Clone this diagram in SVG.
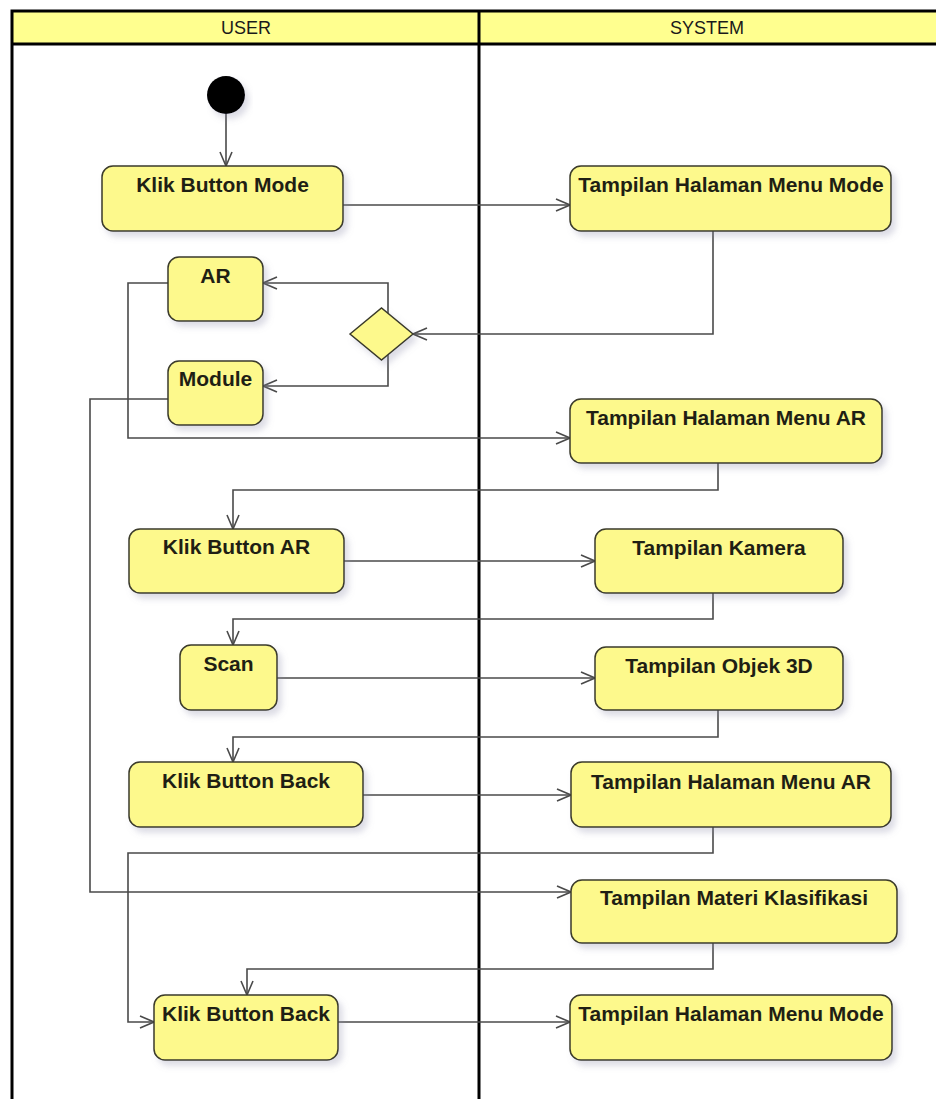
<svg xmlns="http://www.w3.org/2000/svg" width="936" height="1099" viewBox="0 0 936 1099">
  <defs>
    <style>
      .lane-title { font-family: "Liberation Sans", Arial, sans-serif; font-size: 18px; fill: #1a1a1a; text-anchor: middle; }
      .act { fill: #fdf98c; stroke: #3a3a2a; stroke-width: 1.5; filter: url(#shadow); }
      .label { font-family: "Liberation Sans", Arial, sans-serif; font-size: 21px; font-weight: bold; fill: #1f1f14; text-anchor: middle; }
      .flow { fill: none; stroke: #4a4a4a; stroke-width: 1.6; marker-end: url(#open-arrow); }
      .lane-line { stroke: #000; stroke-width: 3; fill: none; }
    </style>
    <filter id="shadow" x="-10%" y="-20%" width="130%" height="150%">
      <feGaussianBlur in="SourceAlpha" stdDeviation="3"/>
      <feOffset dx="4" dy="5" result="blur"/>
      <feFlood flood-color="#8a8aa8" flood-opacity="0.3"/>
      <feComposite in2="blur" operator="in"/>
      <feMerge>
        <feMergeNode/>
        <feMergeNode in="SourceGraphic"/>
      </feMerge>
    </filter>
    <marker id="open-arrow" viewBox="0 0 16 14" refX="15" refY="7" markerWidth="16" markerHeight="14" markerUnits="userSpaceOnUse" orient="auto">
      <path d="M1,1 L15,7 L1,13" fill="none" stroke="#4a4a4a" stroke-width="1.6"/>
    </marker>
  </defs>

  <rect width="936" height="1099" fill="#ffffff"/>

  <!-- swimlanes -->
  <g id="lanes">
    <rect x="12" y="11" width="930" height="33" fill="#ffff8f"/>
    <rect x="12" y="11" width="930" height="1100" class="lane-line"/>
    <line x1="12" y1="44" x2="940" y2="44" class="lane-line"/>
    <line x1="479" y1="11" x2="479" y2="1105" class="lane-line"/>
    <text x="246" y="34" class="lane-title">USER</text>
    <text x="707" y="34" class="lane-title">SYSTEM</text>
  </g>

  <!-- control flows -->
  <g id="connectors">
    <path class="flow" d="M226,114 V166"/>
    <path class="flow" d="M343,205 H570"/>
    <path class="flow" d="M713,231 V334 H413"/>
    <path class="flow" d="M388,313 V283 H263"/>
    <path class="flow" d="M388,355 V386 H263"/>
    <path class="flow" d="M168,283 H128 V438 H570"/>
    <path class="flow" d="M168,399 H90 V892 H571"/>
    <path class="flow" d="M718,463 V490 H233 V529"/>
    <path class="flow" d="M344,561 H595"/>
    <path class="flow" d="M713,593 V619 H233 V645"/>
    <path class="flow" d="M277,678 H595"/>
    <path class="flow" d="M718,710 V737 H233 V762"/>
    <path class="flow" d="M363,795 H571"/>
    <path class="flow" d="M713,827 V853 H128 V1022 H154"/>
    <path class="flow" d="M713,943 V969 H247 V995"/>
    <path class="flow" d="M338,1022 H570"/>
  </g>

  <!-- user lane -->
  <g id="start">
    <circle cx="226" cy="95" r="19" fill="#000" filter="url(#shadow)"/>
  </g>
  <g id="klik-button-mode">
    <rect class="act" x="102" y="166" width="241" height="65" rx="11"/>
    <text class="label" x="222.5" y="192">Klik Button Mode</text>
  </g>
  <g id="decision">
    <polygon points="350,334 381.5,308 413,334 381.5,360" fill="#fdf98c" stroke="#3a3a2a" stroke-width="1.5" filter="url(#shadow)"/>
  </g>
  <g id="ar">
    <rect class="act" x="168" y="257" width="95" height="64" rx="11"/>
    <text class="label" x="215.5" y="283">AR</text>
  </g>
  <g id="module">
    <rect class="act" x="168" y="361" width="95" height="64" rx="11"/>
    <text class="label" x="215.5" y="386">Module</text>
  </g>
  <g id="klik-button-ar">
    <rect class="act" x="129" y="529" width="215" height="64" rx="11"/>
    <text class="label" x="236.5" y="554">Klik Button AR</text>
  </g>
  <g id="scan">
    <rect class="act" x="180" y="645" width="97" height="65" rx="11"/>
    <text class="label" x="228.5" y="671">Scan</text>
  </g>
  <g id="klik-button-back-1">
    <rect class="act" x="129" y="762" width="234" height="65" rx="11"/>
    <text class="label" x="246" y="788">Klik Button Back</text>
  </g>
  <g id="klik-button-back-2">
    <rect class="act" x="154" y="995" width="184" height="65" rx="11"/>
    <text class="label" x="246" y="1021">Klik Button Back</text>
  </g>

  <!-- system lane -->
  <g id="menu-mode-1">
    <rect class="act" x="570" y="166" width="321" height="65" rx="11"/>
    <text class="label" x="731" y="192">Tampilan Halaman Menu Mode</text>
  </g>
  <g id="menu-ar-1">
    <rect class="act" x="570" y="399" width="312" height="64" rx="11"/>
    <text class="label" x="726" y="425">Tampilan Halaman Menu AR</text>
  </g>
  <g id="kamera">
    <rect class="act" x="595" y="529" width="248" height="64" rx="11"/>
    <text class="label" x="719" y="555">Tampilan Kamera</text>
  </g>
  <g id="objek-3d">
    <rect class="act" x="595" y="647" width="248" height="63" rx="11"/>
    <text class="label" x="719" y="673">Tampilan Objek 3D</text>
  </g>
  <g id="menu-ar-2">
    <rect class="act" x="571" y="762" width="320" height="65" rx="11"/>
    <text class="label" x="731" y="789">Tampilan Halaman Menu AR</text>
  </g>
  <g id="materi-klasifikasi">
    <rect class="act" x="571" y="880" width="326" height="63" rx="11"/>
    <text class="label" x="734" y="905">Tampilan Materi Klasifikasi</text>
  </g>
  <g id="menu-mode-2">
    <rect class="act" x="570" y="995" width="322" height="65" rx="11"/>
    <text class="label" x="731" y="1021">Tampilan Halaman Menu Mode</text>
  </g>
</svg>
